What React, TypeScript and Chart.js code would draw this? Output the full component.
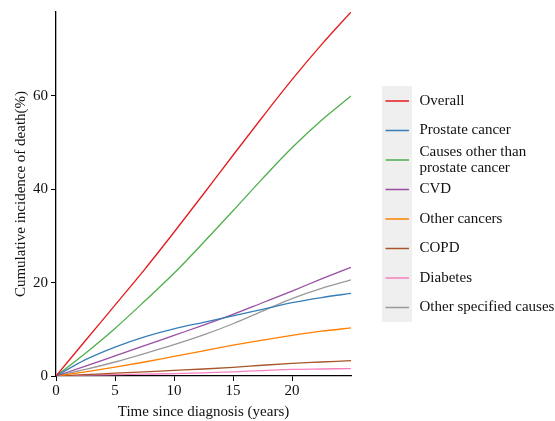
import React, { useEffect, useRef } from "react";
import { Chart, registerables } from "chart.js";

Chart.register(...registerables);

const years = [0, 2.5, 5, 7.5, 10, 12.5, 15, 17.5, 20, 22.5, 25];
const overall = [0, 7.6, 15.2, 22.8, 30.8, 39.0, 47.3, 55.5, 63.5, 71.0, 78.0];
const prostate = [0, 3.5, 6.2, 8.4, 10.1, 11.5, 12.9, 14.3, 15.7, 16.8, 17.7];
const otherThanProstate = [0, 4.9, 10.2, 16.0, 22.0, 28.6, 35.4, 42.3, 48.9, 54.8, 60.0];
const cvd = [0, 2.1, 4.3, 6.5, 8.7, 10.9, 13.2, 15.7, 18.2, 20.8, 23.3];
const otherCancers = [0, 0.9, 1.9, 3.0, 4.2, 5.4, 6.6, 7.7, 8.7, 9.6, 10.3];
const copd = [0, 0.3, 0.6, 0.9, 1.2, 1.5, 1.85, 2.3, 2.7, 3.0, 3.3];
const diabetes = [0, 0.2, 0.3, 0.4, 0.5, 0.65, 0.9, 1.15, 1.4, 1.5, 1.6];
const otherSpecified = [0, 1.4, 3.0, 4.8, 6.7, 8.8, 11.2, 13.9, 16.6, 18.8, 20.6];

const seriesLabels = [
  "Overall",
  "Prostate cancer",
  "Causes other than\nprostate cancer",
  "CVD",
  "Other cancers",
  "COPD",
  "Diabetes",
  "Other specified causes",
];
const seriesValues = [overall, prostate, otherThanProstate, cvd, otherCancers, copd, diabetes, otherSpecified];
const seriesColors = ["#e41a1c", "#377eb8", "#4daf4a", "#984ea3", "#ff7f00", "#a65628", "#f781bf", "#999999"];

const xTicks = [0, 5, 10, 15, 20];
const yTicks = [0, 20, 40, 60];
const xTitle = "Time since diagnosis (years)";
const yTitle = "Cumulative incidence of death(%)";

const FONT = "'Liberation Serif', 'DejaVu Serif', serif";

const legendPlugin = {
  id: "customLegend",
  afterDraw(chart: any) {
    const ctx = chart.ctx;
    const boxX = 382, boxY = 86, boxW = 30, boxH = 236;
    ctx.save();
    ctx.fillStyle = "#efefef";
    ctx.fillRect(boxX, boxY, boxW, boxH);
    const firstY = 101;
    const step = 29.5;
    ctx.font = `15px ${FONT}`;
    ctx.textBaseline = "middle";
    ctx.textAlign = "left";
    chart.data.datasets.forEach((ds: any, i: number) => {
      const y = firstY + i * step;
      ctx.strokeStyle = ds.borderColor;
      ctx.lineWidth = 1.5;
      ctx.beginPath();
      ctx.moveTo(385.5, y);
      ctx.lineTo(409, y);
      ctx.stroke();
      ctx.fillStyle = "#111";
      const lines = String(ds.label).split("\n");
      const lh = 16.4;
      lines.forEach((ln: string, j: number) => {
        const ly = y + (j - (lines.length - 1) / 2) * lh;
        ctx.fillText(ln, 419.5, ly);
      });
    });
    ctx.restore();
  },
};

export default function App() {
  const ref = useRef<HTMLCanvasElement | null>(null);
  useEffect(() => {
    if (!ref.current) return;
    const chart = new Chart(ref.current, {
      type: "line",
      data: {
        datasets: seriesLabels.map((label, i) => ({
          label,
          data: years.map((x, k) => ({ x, y: seriesValues[i][k] })),
          borderColor: seriesColors[i],
          backgroundColor: seriesColors[i],
          borderWidth: 1.3,
          pointRadius: 0,
          fill: false,
          cubicInterpolationMode: "monotone" as const,
        })),
      },
      options: {
        responsive: false,
        animation: false,
        layout: { padding: { top: 10, right: 204, left: 0, bottom: 0 } },
        plugins: { legend: { display: false }, tooltip: { enabled: false } },
        scales: {
          x: {
            type: "linear",
            min: 0,
            max: 25,
            afterBuildTicks: (s: any) => {
              s.ticks = xTicks.map((v) => ({ value: v }));
            },
            afterFit: (s: any) => {
              s.height = 45;
            },
            grid: { display: true, drawOnChartArea: false, drawTicks: true, tickLength: 5, color: "#000" },
            border: { display: true, color: "#000", width: 1.3 },
            ticks: { color: "#111", font: { family: FONT, size: 15 }, padding: 1, maxRotation: 0 },
            title: { display: true, text: xTitle, color: "#111", font: { family: FONT, size: 15 }, padding: { top: 0, bottom: 0 } },
          },
          y: {
            type: "linear",
            min: 0,
            max: 78,
            afterBuildTicks: (s: any) => {
              s.ticks = yTicks.map((v) => ({ value: v }));
            },
            afterFit: (s: any) => {
              s.width = 56;
            },
            grid: { display: true, drawOnChartArea: false, drawTicks: true, tickLength: 5, color: "#000" },
            border: { display: true, color: "#000", width: 1.3 },
            ticks: { color: "#111", font: { family: FONT, size: 15 }, padding: 3 },
            title: { display: true, text: yTitle, color: "#111", font: { family: FONT, size: 15 }, padding: { top: 12, bottom: 0 } },
          },
        },
      },
      plugins: [legendPlugin],
    } as any);
    return () => chart.destroy();
  }, []);
  return (
    <div style={{ position: "absolute", left: 0, top: 0, width: 555, height: 421, background: "#fff" }}>
      <canvas ref={ref} width={555} height={421} style={{ display: "block" }} />
    </div>
  );
}
